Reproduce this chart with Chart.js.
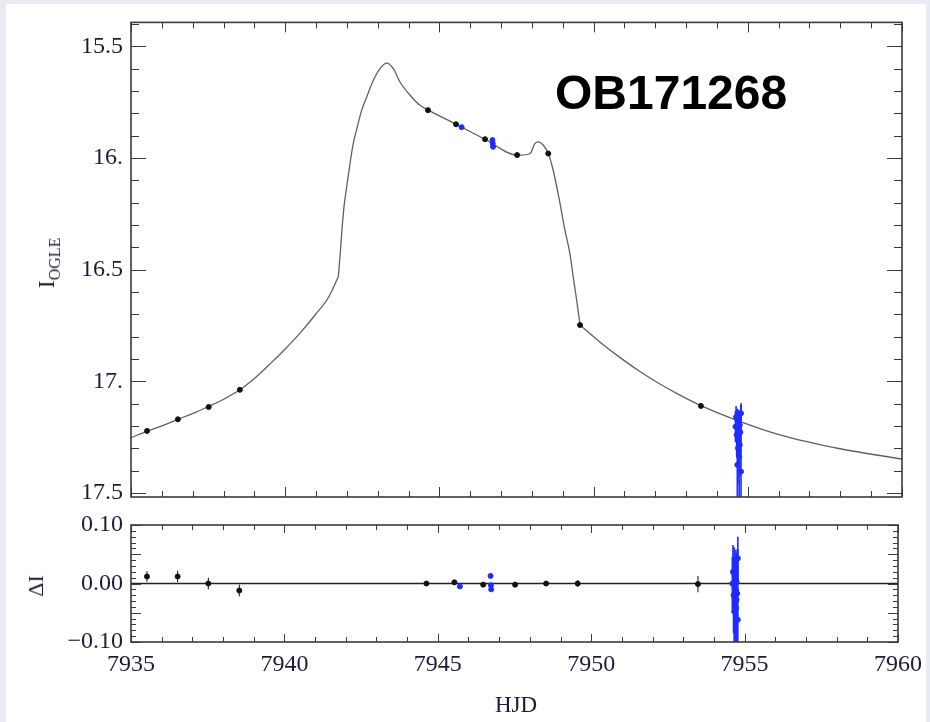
<!DOCTYPE html>
<html>
<head>
<meta charset="UTF-8">
<title>OB171268</title>
<script src="https://cdn.jsdelivr.net/npm/chart.js@4.4.0/dist/chart.umd.min.js"></script>
<style>
  body { margin:0; background:#e8ebf2; width:930px; height:722px; overflow:hidden; position:relative; }
  #page { position:absolute; left:6px; top:4px; width:920px; height:718px; background:#fff; }
  canvas { position:absolute; left:0; }
  #topChart { top:0; }
  #botChart { top:502px; }
  .lbl { position:absolute; font-family:"Liberation Serif", serif; color:#1c1c3a; line-height:1; white-space:nowrap; }
  .rot { transform:translate(-50%,-50%) rotate(-90deg); }
  #title { position:absolute; left:555px; top:69px; font:bold 48px "Liberation Sans", Arial, sans-serif; line-height:1; color:#000; }
</style>
</head>
<body>
<div id="page"></div>
<canvas id="topChart" width="930" height="520"></canvas>
<canvas id="botChart" width="930" height="220"></canvas>
<div id="title">OB171268</div>
<div class="lbl rot" style="left:46px; top:263px; font-size:24px;">I<span style="font-size:16px; position:relative; top:6px;">OGLE</span></div>
<div class="lbl rot" style="left:36px; top:586px; font-size:22px;">ΔI</div>
<div class="lbl" style="left:516px; top:693px; font-size:23px; transform:translateX(-50%);">HJD</div>

<script>
// model light curve
const modelHJD = [7935.0, 7935.52, 7936.0, 7936.52, 7937.01, 7937.52, 7938.02, 7938.53, 7939.02, 7939.51,
  7940.0, 7940.48, 7940.97, 7941.39, 7941.722,
  7941.777, 7941.832, 7941.907, 7941.994, 7942.101, 7942.208, 7942.338, 7942.481, 7942.643, 7942.857,
  7943.074, 7943.291, 7943.505, 7943.722, 7944.047, 7944.371, 7944.64, 7945.54, 7946.48, 7947.52,
  7947.61, 7947.94, 7948.10, 7948.21, 7948.37, 7948.53,
  7948.69, 7948.91, 7949.07, 7949.23, 7949.34, 7949.45, 7949.56,
  7950.21, 7950.86, 7951.50, 7952.15, 7952.80, 7953.48, 7954.52, 7956.04, 7957.99, 7960.0];
const modelMag = [17.252, 17.224, 17.20, 17.170, 17.144, 17.112, 17.079, 17.038, 16.985, 16.922,
  16.855, 16.784, 16.703, 16.627, 16.532,
  16.442, 16.337, 16.218, 16.129, 16.025, 15.935, 15.861, 15.786, 15.727, 15.652,
  15.600, 15.575, 15.600, 15.660, 15.719, 15.764, 15.786, 15.849, 15.916, 15.987,
  15.987, 15.980, 15.935, 15.928, 15.943, 15.980,
  16.055, 16.203, 16.323, 16.427, 16.532, 16.636, 16.748,
  16.825, 16.894, 16.956, 17.012, 17.062, 17.109, 17.168, 17.240, 17.302, 17.348];
// caustic crossings, where the model curve has a sharp corner
const causticHJD = [7941.722, 7949.56];

// OGLE (black)
const ogleHJD = [7935.52, 7936.52, 7937.52, 7938.53, 7944.63, 7945.54, 7946.48, 7947.52, 7948.53, 7949.56, 7953.48];
const ogleMag = [17.222, 17.170, 17.115, 17.038, 15.786, 15.849, 15.916, 15.987, 15.980, 16.748, 17.110];
const ogleErr = [0.008, 0.008, 0.009, 0.01, 0.004, 0.004, 0.004, 0.004, 0.004, 0.006, 0.012];
const ogleRes = [0.012, 0.012, 0.0, -0.012, 0.0, 0.002, -0.002, -0.002, 0.0, 0.0, -0.001];
const ogleResErr = [0.009, 0.01, 0.01, 0.01, 0.004, 0.004, 0.004, 0.004, 0.004, 0.006, 0.014];

// second telescope (blue)
const blueHJD = [7945.72, 7946.72, 7946.73, 7946.74,
  7954.78, 7954.62, 7954.66, 7954.70, 7954.74, 7954.60, 7954.68, 7954.72,
  7954.76, 7954.64, 7954.70, 7954.74, 7954.68, 7954.72, 7954.66, 7954.78];
const blueMag = [15.862, 15.92, 15.935, 15.95,
  17.143, 17.16, 17.173, 17.187, 17.195, 17.203, 17.21, 17.217,
  17.228, 17.24, 17.262, 17.284, 17.299, 17.337, 17.374, 17.404];
const blueErr = [0.005, 0.005, 0.005, 0.005,
  0.045, 0.05, 0.05, 0.06, 0.06, 0.07, 0.08, 0.08,
  0.09, 0.1, 0.12, 0.14, 0.16, 0.2, 0.25, 0.3];
const blueRes = [-0.005, 0.013, -0.003, -0.01,
  0.043, 0.020, 0.017, 0.009, 0.003, 0.0, -0.005, -0.011,
  -0.017, -0.02, -0.025, -0.028, -0.034, -0.042, -0.048, -0.062];
const blueResErr = [0.003, 0.003, 0.003, 0.003,
  0.037, 0.046, 0.03, 0.035, 0.04, 0.045, 0.05, 0.055,
  0.06, 0.065, 0.07, 0.08, 0.09, 0.1, 0.11, 0.12];

// axes
const hjdTicks = [7935, 7940, 7945, 7950, 7955, 7960];
const magTicks = [15.5, 16, 16.5, 17, 17.5];
const magTickLabels = ['15.5', '16.', '16.5', '17.', '17.5'];
const resTicks = [-0.1, -0.05, 0, 0.05, 0.1];
const resTickLabels = ['\u22120.10', '\u22120.05', '0.00', '0.05', '0.10'];

const pts = (xs, ys) => xs.map((x, i) => ({x: x, y: ys[i]}));
const tickFont = {family: "'Liberation Serif', 'Times New Roman', serif", size: 24};
const tickColor = '#1c1c3a';
const black = '#111111';
const blue = '#1e2cff';

// split the model at the caustic crossings so the smoothing keeps the corners
const edges = [modelHJD[0], ...causticHJD, modelHJD[modelHJD.length - 1]];
const modelSegments = edges.slice(1).map((hi, s) =>
  pts(modelHJD, modelMag).filter(p => p.x >= edges[s] && p.x <= hi));

// error bars drawn under the points
const errorBars = {
  id: 'errorBars',
  beforeDatasetsDraw(chart) {
    const {ctx, chartArea: a, scales: {x, y}} = chart;
    ctx.save();
    ctx.beginPath();
    ctx.rect(a.left, a.top, a.width, a.height);
    ctx.clip();
    chart.data.datasets.forEach(ds => {
      if (!ds.errors) return;
      ctx.strokeStyle = ds.borderColor;
      ctx.lineWidth = ds.errWidth || 1;
      ds.data.forEach((p, i) => {
        const px = x.getPixelForValue(p.x);
        ctx.beginPath();
        ctx.moveTo(px, y.getPixelForValue(p.y - ds.errors[i]));
        ctx.lineTo(px, y.getPixelForValue(p.y + ds.errors[i]));
        ctx.stroke();
      });
    });
    ctx.restore();
  }
};

// mathematica style frame with inward ticks on all four sides
const frame = {
  id: 'frame',
  afterDraw(chart, args, o) {
    const {ctx, chartArea: a, scales: {x, y}} = chart;
    const isMajor = (v, m) => Math.abs(v / m - Math.round(v / m)) < 1e-6;
    ctx.save();
    ctx.strokeStyle = '#3a3a3a';
    ctx.lineWidth = 1;
    ctx.beginPath();
    let k0 = Math.ceil(x.min / o.xStep - 1e-6), k1 = Math.floor(x.max / o.xStep + 1e-6);
    for (let k = k0; k <= k1; k++) {
      const v = k * o.xStep, px = Math.round(x.getPixelForValue(v)) + 0.5;
      const len = isMajor(v, o.xMajor) ? o.xLen[0] : o.xLen[1];
      ctx.moveTo(px, a.bottom); ctx.lineTo(px, a.bottom - len);
      ctx.moveTo(px, a.top); ctx.lineTo(px, a.top + len);
    }
    k0 = Math.ceil(Math.min(y.min, y.max) / o.yStep - 1e-6);
    k1 = Math.floor(Math.max(y.min, y.max) / o.yStep + 1e-6);
    for (let k = k0; k <= k1; k++) {
      const v = k * o.yStep, py = Math.round(y.getPixelForValue(v)) + 0.5;
      const len = isMajor(v, o.yMajor) ? o.yLen[0] : o.yLen[1];
      ctx.moveTo(a.left, py); ctx.lineTo(a.left + len, py);
      ctx.moveTo(a.right, py); ctx.lineTo(a.right - len, py);
    }
    ctx.stroke();
    ctx.lineWidth = 1.6;
    ctx.strokeRect(a.left, a.top, a.width, a.height);
    ctx.restore();
  }
};

const modelSets = modelSegments.map(seg => ({
  data: seg, showLine: true, borderColor: '#606060', borderWidth: 1.3,
  pointRadius: 0, cubicInterpolationMode: 'monotone', order: 3
}));

const topChart = new Chart(document.getElementById('topChart'), {
  type: 'scatter',
  data: {
    datasets: [
      ...modelSets,
      {data: pts(ogleHJD, ogleMag), backgroundColor: black, borderColor: black, pointRadius: 2.5,
        errors: ogleErr, order: 2},
      {data: pts(blueHJD, blueMag), backgroundColor: blue, borderColor: blue, pointRadius: 2.5,
        errors: blueErr, errWidth: 1.6, order: 1}
    ]
  },
  options: {
    responsive: false,
    animation: false,
    layout: {padding: {top: 22, right: 28, left: 0, bottom: 23}},
    plugins: {
      legend: {display: false},
      tooltip: {enabled: false},
      frame: {xStep: 1, xMajor: 5, xLen: [10, 6], yStep: 0.1, yMajor: 0.5, yLen: [15, 8]}
    },
    scales: {
      x: {
        type: 'linear', min: 7935, max: 7960, display: false
      },
      y: {
        type: 'linear', reverse: true, min: 15.393, max: 17.518,
        grid: {display: false, drawTicks: false}, border: {display: false},
        afterBuildTicks: s => { s.ticks = magTicks.map(v => ({value: v})); },
        ticks: {callback: (v, i) => magTickLabels[i], font: tickFont, color: tickColor, padding: 8},
        afterFit: s => { s.width = 131; }
      }
    }
  },
  plugins: [errorBars, frame]
});

const botChart = new Chart(document.getElementById('botChart'), {
  type: 'scatter',
  data: {
    datasets: [
      {data: [{x: 7935, y: 0}, {x: 7960, y: 0}], showLine: true, borderColor: '#222', borderWidth: 1.5,
        pointRadius: 0, order: 3},
      {data: pts(ogleHJD, ogleRes), backgroundColor: black, borderColor: black, pointRadius: 2.5,
        errors: ogleResErr, order: 2},
      {data: pts(blueHJD, blueRes), backgroundColor: blue, borderColor: blue, pointRadius: 2.5,
        errors: blueResErr, errWidth: 1.6, order: 1}
    ]
  },
  options: {
    responsive: false,
    animation: false,
    layout: {padding: {top: 23, right: 28, left: 0, bottom: 0}},
    plugins: {
      legend: {display: false},
      tooltip: {enabled: false},
      frame: {xStep: 1, xMajor: 5, xLen: [8, 5], yStep: 0.01, yMajor: 0.05, yLen: [10, 5]}
    },
    scales: {
      x: {
        type: 'linear', min: 7935, max: 7960,
        grid: {display: false, drawTicks: false}, border: {display: false},
        afterBuildTicks: s => { s.ticks = hjdTicks.map(v => ({value: v})); },
        ticks: {callback: v => String(v), font: tickFont, color: tickColor, padding: 8, maxRotation: 0},
        afterFit: s => { s.height = 80; }
      },
      y: {
        type: 'linear', min: -0.1, max: 0.1,
        grid: {display: false, drawTicks: false}, border: {display: false},
        afterBuildTicks: s => { s.ticks = resTicks.map(v => ({value: v})); },
        ticks: {callback: (v, i) => resTickLabels[i], font: tickFont, color: tickColor, padding: 8},
        afterFit: s => { s.width = 131; }
      }
    }
  },
  plugins: [errorBars, frame]
});
</script>
</body>
</html>
